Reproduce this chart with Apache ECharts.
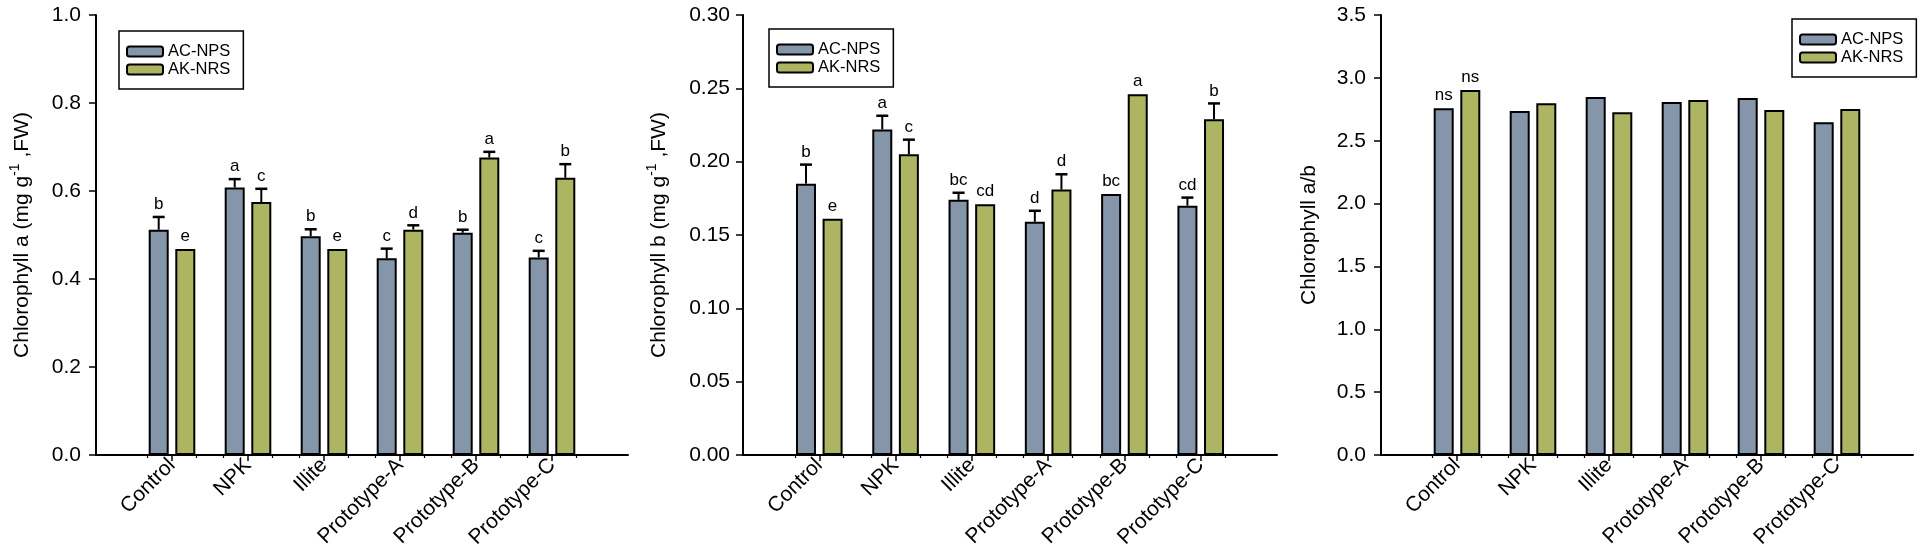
<!DOCTYPE html>
<html>
<head>
<meta charset="utf-8">
<script src="https://cdn.jsdelivr.net/npm/echarts@6/dist/echarts.min.js"></script>
<style>
html,body{margin:0;padding:0;background:#fff;}
#chart{width:1920px;height:560px;}
</style>
</head>
<body>
<div id="chart"></div>
<script>
// ---------- data ----------
const categories = ['Control', 'NPK', 'Illite', 'Prototype-A', 'Prototype-B', 'Prototype-C'];
const seriesNames = ['AC-NPS', 'AK-NRS'];

const chlA_AC = [0.512, 0.608, 0.497, 0.447, 0.505, 0.449];
const chlA_AC_err = [0.029, 0.019, 0.016, 0.022, 0.007, 0.015];
const chlA_AC_letters = ['b', 'a', 'b', 'c', 'b', 'c'];
const chlA_AK = [0.468, 0.575, 0.468, 0.512, 0.676, 0.630];
const chlA_AK_err = [0, 0.030, 0, 0.010, 0.013, 0.031];
const chlA_AK_letters = ['e', 'c', 'e', 'd', 'a', 'b'];

const chlB_AC = [0.185, 0.222, 0.174, 0.159, 0.178, 0.170];
const chlB_AC_err = [0.013, 0.0093, 0.0048, 0.0075, 0, 0.0055];
const chlB_AC_letters = ['b', 'a', 'bc', 'd', 'bc', 'cd'];
const chlB_AK = [0.161, 0.205, 0.171, 0.181, 0.246, 0.229];
const chlB_AK_err = [0, 0.010, 0, 0.0104, 0, 0.0107];
const chlB_AK_letters = ['e', 'c', 'cd', 'd', 'a', 'b'];

const ratio_AC = [2.758, 2.737, 2.848, 2.808, 2.840, 2.647];
const ratio_AC_err = [0, 0, 0, 0, 0, 0];
const ratio_AC_letters = ['ns', '', '', '', '', ''];
const ratio_AK = [2.904, 2.798, 2.726, 2.824, 2.745, 2.753];
const ratio_AK_err = [0, 0, 0, 0, 0, 0];
const ratio_AK_letters = ['ns', '', '', '', '', ''];

const yTitles = ['Chlorophyll a (mg g{sup|-1} ,FW)', 'Chlorophyll b (mg g{sup|-1} ,FW)', 'Chlorophyll a/b'];
const yMax = [1.0, 0.30, 3.5];
const yInterval = [0.2, 0.05, 0.5];
const yDecimals = [1, 2, 1];

// ---------- styles / layout ----------
const FONT = 'Liberation Sans, Arial, sans-serif';
const colors = ['#8596ab', '#adb563'];
const BAR_W = 20;
const BAR_GAP = '33%';
const BAR_OFF = 13.3;
const panels = [
  { left: 96, width: 532, nameGap: 60, legendLeft: 119, legendTop: 31, labelMargin: 15 },
  { left: 743, width: 534, nameGap: 70, legendLeft: 769, legendTop: 29, labelMargin: 13 },
  { left: 1381, width: 532, nameGap: 58, legendLeft: 1792, legendTop: 19, labelMargin: 15 }
];
const panelData = [
  [[chlA_AC, chlA_AC_err, chlA_AC_letters], [chlA_AK, chlA_AK_err, chlA_AK_letters]],
  [[chlB_AC, chlB_AC_err, chlB_AC_letters], [chlB_AK, chlB_AK_err, chlB_AK_letters]],
  [[ratio_AC, ratio_AC_err, ratio_AC_letters], [ratio_AK, ratio_AK_err, ratio_AK_letters]]
];

const axisCats = [''].concat(categories, ['']);
const minorTickVals = [];
categories.forEach((c, i) => { minorTickVals.push(i - 0.32, i + 0.32); });

const grid = [], xAxis = [], yAxis = [], legend = [], series = [];

panels.forEach((p, g) => {
  grid.push({ left: p.left, top: 15, width: p.width, height: 440 });
  xAxis.push({
    type: 'category', gridIndex: g, data: axisCats, boundaryGap: false, position: 'bottom',
    axisLine: { show: true, onZero: false, lineStyle: { color: '#000', width: 2 } },
    axisTick: { show: true, length: 6, lineStyle: { color: '#000', width: 1.5 },
      interval: (idx, val) => val !== '' },
    axisLabel: { rotate: 45, fontSize: 21, color: '#000', fontFamily: FONT, margin: 7,
      interval: (idx, val) => val !== '' },
    splitLine: { show: false }
  });
  yAxis.push({
    type: 'value', gridIndex: g, min: 0, max: yMax[g], interval: yInterval[g],
    name: yTitles[g], nameLocation: 'middle', nameGap: p.nameGap,
    nameTextStyle: { fontSize: 21, color: '#000', fontFamily: FONT, lineHeight: 28,
      rich: { sup: { fontSize: 14, verticalAlign: 'top', lineHeight: 15, color: '#000', fontFamily: FONT } } },
    axisLine: { show: true, onZero: false, lineStyle: { color: '#000', width: 2 } },
    axisTick: { show: true, length: 7, lineStyle: { color: '#000', width: 1.5 } },
    axisLabel: { fontSize: 21, color: '#000', fontFamily: FONT, margin: p.labelMargin,
      formatter: v => v.toFixed(yDecimals[g]) },
    splitLine: { show: false }
  });
  legend.push({
    left: p.legendLeft, top: p.legendTop, orient: 'vertical',
    data: seriesNames.map(n => n + '\u200b'.repeat(g)),
    formatter: n => n.replace(/\u200b/g, ''),
    itemWidth: 36, itemHeight: 10, itemGap: 1,
    padding: [12, 13, 11, 7],
    borderColor: '#000', borderWidth: 1.5, backgroundColor: '#fff',
    textStyle: { fontSize: 16.5, color: '#000', fontFamily: FONT, lineHeight: 16 },
    selectedMode: false
  });
  panelData[g].forEach((sd, s) => {
    const [vals, errs, letters] = sd;
    series.push({
      type: 'bar', name: seriesNames[s] + '\u200b'.repeat(g),
      xAxisIndex: g, yAxisIndex: g,
      barWidth: BAR_W, barGap: BAR_GAP,
      itemStyle: { color: colors[s], borderColor: '#000', borderWidth: 2 },
      data: vals.map((v, i) => [i + 1, v]),
      animation: false, z: 2
    });
    const off = s === 0 ? -BAR_OFF : BAR_OFF;
    series.push({
      type: 'custom', xAxisIndex: g, yAxisIndex: g, z: 5, animation: false, silent: true,
      data: vals.map((v, i) => [i + 1, v, errs[i]]),
      renderItem: (params, api) => {
        const ci = api.value(0), v = api.value(1), e = api.value(2);
        const base = api.coord([ci, v]);
        const top = api.coord([ci, v + e]);
        const x = base[0] + off;
        const children = [];
        if (e > 0) {
          children.push({ type: 'line', shape: { x1: x, y1: base[1], x2: x, y2: top[1] },
            style: { stroke: '#000', lineWidth: 2 } });
          children.push({ type: 'line', shape: { x1: x - 6, y1: top[1], x2: x + 6, y2: top[1] },
            style: { stroke: '#000', lineWidth: 2.5 } });
        }
        const lt = letters[params.dataIndex];
        if (lt) {
          children.push({ type: 'text', x: x, y: top[1] - 4,
            style: { text: lt, fill: '#000', fontSize: 17, fontFamily: FONT,
              align: 'center', verticalAlign: 'bottom' } });
        }
        return { type: 'group', children: children };
      }
    });
  });
});

panels.forEach((p, g) => {
  xAxis.push({
    type: 'value', gridIndex: g, min: -1, max: 6, position: 'bottom',
    axisLine: { show: false, onZero: false },
    axisLabel: { show: false },
    axisTick: { show: true, length: 3, lineStyle: { color: '#000', width: 1.2 },
      customValues: minorTickVals },
    splitLine: { show: false }
  });
});

const chart = echarts.init(document.getElementById('chart'), null, { renderer: 'canvas' });
chart.setOption({
  backgroundColor: '#fff',
  animation: false,
  grid: grid, xAxis: xAxis, yAxis: yAxis, legend: legend, series: series
});
</script>
</body>
</html>
